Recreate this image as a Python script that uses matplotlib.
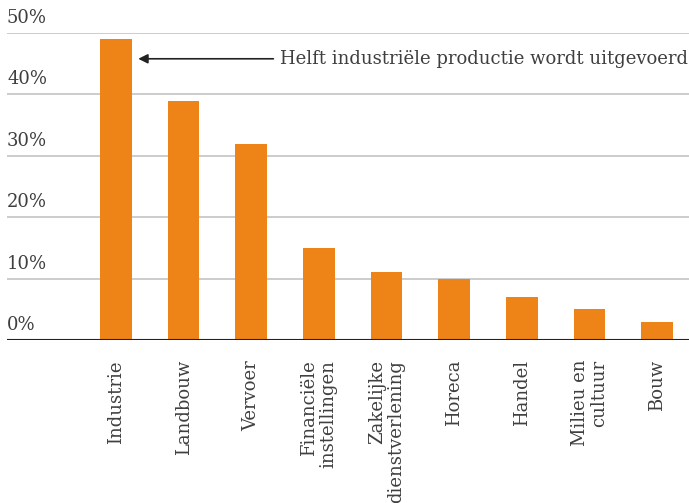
import matplotlib
matplotlib.use("Agg")
import matplotlib.pyplot as plt
import matplotlib.transforms as mtransforms

categories = ["Industrie", "Landbouw", "Vervoer", "Financiële\ninstellingen",
              "Zakelijke\ndienstverlening", "Horeca", "Handel", "Milieu en\ncultuur", "Bouw"]
values = [49, 39, 32, 15, 11, 10, 7, 5, 3]
yticks = [0, 10, 20, 30, 40, 50]
ytick_labels = ["0%", "10%", "20%", "30%", "40%", "50%"]
annotation = "Helft industriële productie wordt uitgevoerd"

FONT = "DejaVu Serif"
TXT = "#3f3f3f"
ORANGE = "#EE8418"
FS = 13

fig = plt.figure(figsize=(6.89, 5.03), dpi=100)
ax = fig.add_axes([7/689, (503-340)/503, 1 - 7/689, (340-33)/503])

x = list(range(len(categories)))
ax.bar(x, values, width=0.47, color=ORANGE, zorder=3)
ax.set_xlim(-1.61, 8.47)
ax.set_ylim(0, 50)

for t in yticks[1:]:
    ax.axhline(t, color="#C8C8C8", lw=1.3, zorder=1)
ax.axhline(0, color="#222222", lw=1.5, zorder=4)

for s in ax.spines.values():
    s.set_visible(False)
ax.set_yticks([])
ax.set_xticks([])

trans = mtransforms.blended_transform_factory(ax.transAxes, ax.transData)
for t, lab in zip(yticks, ytick_labels):
    ax.text(0.0, t, lab, transform=trans + mtransforms.ScaledTranslation(0, 6/100, fig.dpi_scale_trans),
            ha="left", va="bottom", fontsize=FS, color=TXT, family=FONT)

for xi, lab in zip(x, categories):
    ax.text(xi, 0, lab, transform=ax.transData + mtransforms.ScaledTranslation(0, -20/100, fig.dpi_scale_trans),
            rotation=90, ha="center", va="top", multialignment="right",
            fontsize=FS, color=TXT, family=FONT, linespacing=1.12)

ax.annotate(annotation, xy=(0.33, 45.8), xytext=(2.43, 45.8),
            ha="left", va="center", fontsize=FS, color=TXT, family=FONT,
            arrowprops=dict(arrowstyle="-|>", color="#222222", lw=1.2,
                            mutation_scale=14, shrinkA=3, shrinkB=0))

fig.savefig("out.png", dpi=100)
